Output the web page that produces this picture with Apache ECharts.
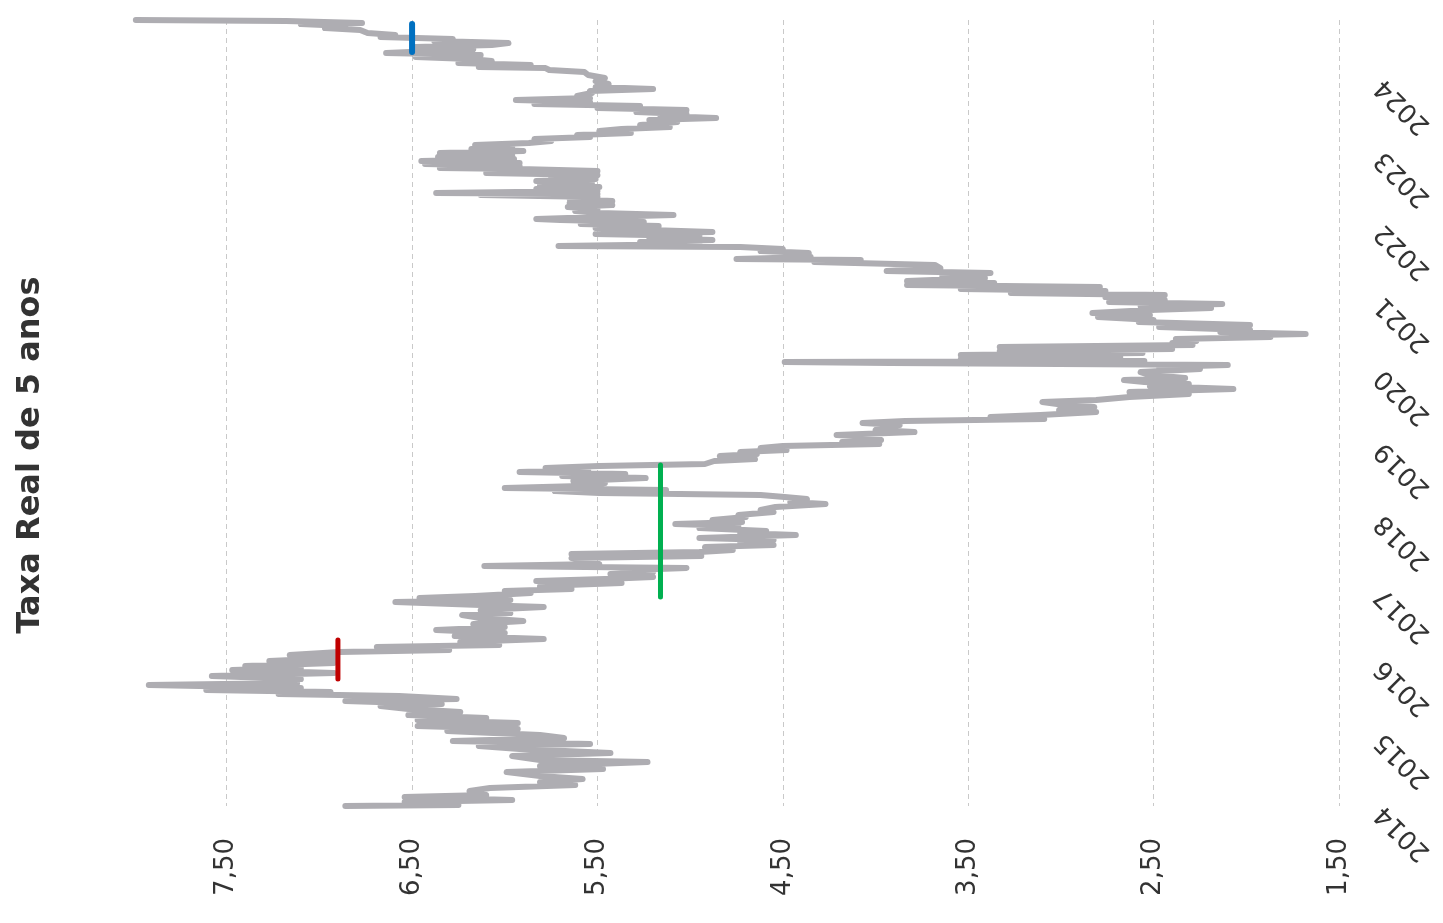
<!DOCTYPE html>
<html lang="pt-BR">
<head>
<meta charset="utf-8">
<title>Taxa Real de 5 anos</title>
<script src="https://cdn.jsdelivr.net/npm/echarts@6/dist/echarts.min.js"></script>
<style>
  html, body { margin: 0; padding: 0; background: #ffffff; }
  #grafico { width: 1443px; height: 923px; }
</style>
</head>
<body>
<div id="grafico"></div>
<script>
// Taxa real de 5 anos: [ano (fração decimal), taxa %]
const taxaReal = [
  [2014.000, 6.86], [2014.014, 6.25], [2014.055, 6.54], [2014.083, 5.96], [2014.124, 6.54],
  [2014.151, 6.10], [2014.206, 6.19], [2014.248, 6.08], [2014.289, 5.62], [2014.330, 5.81],
  [2014.371, 5.58], [2014.413, 5.81], [2014.468, 5.99], [2014.509, 5.47], [2014.550, 5.81],
  [2014.605, 5.23], [2014.633, 5.81], [2014.688, 5.96], [2014.729, 5.43], [2014.784, 5.92],
  [2014.826, 6.14], [2014.853, 5.54], [2014.894, 6.28], [2014.936, 5.68], [2014.977, 5.81],
  [2015.032, 6.31], [2015.059, 5.93], [2015.101, 6.47], [2015.142, 5.93], [2015.183, 6.47],
  [2015.211, 6.10], [2015.252, 6.52], [2015.293, 6.24], [2015.335, 6.52], [2015.376, 6.67],
  [2015.403, 6.34], [2015.445, 6.86], [2015.472, 6.26], [2015.513, 6.57], [2015.541, 7.22],
  [2015.569, 6.94], [2015.596, 7.61], [2015.624, 7.10], [2015.665, 7.92], [2015.692, 7.12],
  [2015.720, 7.31], [2015.747, 7.10], [2015.789, 7.58], [2015.830, 6.92], [2015.871, 7.47],
  [2015.899, 7.10], [2015.926, 7.40], [2015.968, 6.92], [2015.995, 7.27], [2016.036, 6.91],
  [2016.078, 7.16], [2016.119, 6.89], [2016.146, 6.30], [2016.188, 6.69], [2016.215, 6.03],
  [2016.256, 6.24], [2016.298, 5.79], [2016.339, 6.27], [2016.380, 6.00], [2016.422, 6.37],
  [2016.463, 6.00], [2016.504, 6.17], [2016.545, 5.90], [2016.587, 6.13], [2016.628, 6.23],
  [2016.655, 5.97], [2016.697, 6.13], [2016.738, 5.79], [2016.766, 6.13], [2016.807, 6.59],
  [2016.834, 5.97], [2016.862, 6.46], [2016.889, 6.16], [2016.931, 5.86], [2016.958, 6.00],
  [2016.986, 5.64], [2017.027, 5.81], [2017.068, 5.37], [2017.096, 5.83], [2017.123, 5.46],
  [2017.151, 5.20], [2017.192, 5.43], [2017.220, 5.20], [2017.247, 5.32], [2017.275, 5.02],
  [2017.302, 6.11], [2017.330, 5.49], [2017.371, 5.54], [2017.412, 5.64], [2017.440, 4.94],
  [2017.467, 5.64], [2017.495, 4.95], [2017.522, 4.77], [2017.564, 4.92], [2017.591, 4.55],
  [2017.632, 4.73], [2017.660, 4.55], [2017.687, 4.95], [2017.729, 4.43], [2017.756, 4.73],
  [2017.784, 4.59], [2017.825, 4.95], [2017.853, 4.74], [2017.880, 5.08], [2017.908, 4.72],
  [2017.935, 4.88], [2017.976, 4.70], [2018.004, 4.74], [2018.045, 4.55], [2018.073, 4.62],
  [2018.114, 4.54], [2018.155, 4.27], [2018.183, 4.46], [2018.224, 4.37], [2018.252, 4.49],
  [2018.279, 4.62], [2018.307, 5.49], [2018.334, 5.73], [2018.348, 5.13], [2018.375, 6.00],
  [2018.403, 5.59], [2018.444, 5.46], [2018.472, 5.63], [2018.513, 5.24], [2018.540, 5.69],
  [2018.568, 5.35], [2018.595, 5.92], [2018.623, 5.55], [2018.651, 5.78], [2018.678, 5.49],
  [2018.706, 4.92], [2018.747, 4.87], [2018.774, 4.65], [2018.816, 4.84], [2018.843, 4.64],
  [2018.871, 4.73], [2018.898, 4.48], [2018.926, 4.62], [2018.953, 4.50], [2018.981, 3.98],
  [2019.008, 4.18], [2019.036, 3.97], [2019.077, 4.03], [2019.105, 4.21], [2019.146, 3.79],
  [2019.173, 4.00], [2019.215, 3.98], [2019.242, 3.87], [2019.270, 4.07], [2019.297, 3.84],
  [2019.325, 3.09], [2019.352, 3.38], [2019.380, 3.11], [2019.421, 2.81], [2019.449, 3.01],
  [2019.490, 2.82], [2019.517, 2.98], [2019.559, 3.10], [2019.586, 2.81], [2019.627, 2.63],
  [2019.669, 2.31], [2019.696, 2.63], [2019.737, 2.07], [2019.779, 2.52], [2019.806, 2.31],
  [2019.834, 2.55], [2019.861, 2.66], [2019.889, 2.33], [2019.930, 2.52], [2019.971, 2.57],
  [2020.013, 2.25], [2020.040, 2.47], [2020.068, 2.10], [2020.095, 3.92], [2020.109, 4.49],
  [2020.123, 2.55], [2020.150, 3.54], [2020.178, 2.68], [2020.205, 3.54], [2020.233, 2.56],
  [2020.260, 3.33], [2020.288, 2.40], [2020.315, 3.33], [2020.343, 2.29], [2020.370, 2.40],
  [2020.398, 2.27], [2020.425, 2.38], [2020.453, 1.87], [2020.480, 1.95], [2020.494, 1.68],
  [2020.522, 2.14], [2020.549, 1.98], [2020.590, 2.47], [2020.618, 1.98], [2020.659, 2.58],
  [2020.687, 2.50], [2020.728, 2.80], [2020.756, 2.52], [2020.783, 2.83], [2020.824, 2.52],
  [2020.852, 2.19], [2020.880, 2.57], [2020.907, 2.13], [2020.935, 2.74], [2020.962, 2.44],
  [2021.003, 2.76], [2021.031, 2.44], [2021.058, 3.27], [2021.086, 2.76], [2021.113, 3.54],
  [2021.141, 2.79], [2021.168, 3.83], [2021.196, 3.36], [2021.224, 3.83], [2021.265, 3.41],
  [2021.292, 3.64], [2021.334, 3.38], [2021.361, 3.94], [2021.402, 3.65], [2021.444, 3.68],
  [2021.471, 3.67], [2021.485, 4.33], [2021.513, 4.08], [2021.526, 4.75], [2021.554, 4.35],
  [2021.581, 4.49], [2021.609, 4.36], [2021.636, 4.62], [2021.664, 4.50], [2021.691, 4.73],
  [2021.705, 5.71], [2021.733, 4.95], [2021.760, 5.27], [2021.788, 4.88], [2021.815, 5.22],
  [2021.843, 4.95], [2021.870, 5.51], [2021.898, 4.88], [2021.925, 5.22], [2021.953, 5.51],
  [2021.980, 5.17], [2022.008, 5.59], [2022.035, 5.25], [2022.063, 5.70], [2022.077, 5.83],
  [2022.104, 5.49], [2022.132, 5.09], [2022.159, 5.49], [2022.187, 5.62], [2022.214, 5.50],
  [2022.242, 5.66], [2022.269, 5.42], [2022.297, 5.65], [2022.324, 5.42], [2022.352, 5.65],
  [2022.379, 5.50], [2022.407, 6.13], [2022.421, 5.50], [2022.434, 6.37], [2022.462, 5.50],
  [2022.489, 5.83], [2022.517, 5.49], [2022.544, 5.81], [2022.572, 5.53], [2022.599, 5.83],
  [2022.627, 5.51], [2022.654, 5.75], [2022.682, 5.50], [2022.709, 6.10], [2022.737, 5.50],
  [2022.764, 5.92], [2022.778, 6.35], [2022.806, 5.92], [2022.833, 6.43], [2022.847, 5.92],
  [2022.874, 6.45], [2022.902, 5.95], [2022.930, 6.36], [2022.957, 5.96], [2022.985, 6.35],
  [2023.012, 5.90], [2023.040, 6.18], [2023.067, 5.96], [2023.095, 6.16], [2023.122, 5.87],
  [2023.150, 5.75], [2023.177, 5.84], [2023.205, 5.54], [2023.232, 5.61], [2023.260, 5.32],
  [2023.287, 5.49], [2023.315, 5.37], [2023.342, 5.11], [2023.370, 5.27], [2023.411, 5.07],
  [2023.439, 5.22], [2023.466, 4.86], [2023.494, 5.16], [2023.521, 5.02], [2023.549, 5.29],
  [2023.576, 5.02], [2023.604, 5.50], [2023.631, 5.27], [2023.659, 5.84], [2023.686, 5.54],
  [2023.714, 5.94], [2023.741, 5.54], [2023.769, 5.61], [2023.810, 5.53], [2023.838, 5.54],
  [2023.865, 5.20], [2023.893, 5.51], [2023.934, 5.44], [2023.975, 5.51], [2024.017, 5.46],
  [2024.058, 5.55], [2024.099, 5.57], [2024.127, 5.76], [2024.154, 5.78], [2024.168, 6.14],
  [2024.195, 5.86], [2024.223, 6.25], [2024.250, 6.07], [2024.278, 6.19], [2024.305, 6.48],
  [2024.333, 6.13], [2024.360, 6.64], [2024.388, 6.38], [2024.415, 6.17], [2024.443, 6.48],
  [2024.470, 6.07], [2024.498, 5.98], [2024.525, 6.38], [2024.553, 6.28], [2024.580, 6.67],
  [2024.608, 6.59], [2024.635, 6.74], [2024.677, 6.78], [2024.704, 6.97], [2024.732, 6.86],
  [2024.759, 7.10], [2024.773, 6.77], [2024.801, 7.18], [2024.815, 7.99]
];

// Marcos de referência: [taxa %, ano inicial, ano final]
const marcoVermelho = [6.90, 2015.747, 2016.284];
const marcoVerde = [5.16, 2016.876, 2018.692];
const marcoAzul = [6.50, 2024.374, 2024.759];

// Eixos
const anosEixo = [2014, 2015, 2016, 2017, 2018, 2019, 2020, 2021, 2022, 2023, 2024];
const taxasEixo = [1.5, 2.5, 3.5, 4.5, 5.5, 6.5, 7.5];
const tituloEixo = 'Taxa Real de 5 anos';

const fonte = 'DejaVu Sans';
const ultimoAno = taxaReal[taxaReal.length - 1][0];

function segmento(m) {
  return [[m[0], m[1]], [m[0], m[2]]];
}

function rotuloTaxa(v) {
  const ok = taxasEixo.some(t => Math.abs(t - v) < 1e-6);
  return ok ? v.toFixed(2).replace('.', ',') : '';
}

function rotuloAno(v) {
  const ok = anosEixo.some(a => Math.abs(a - v) < 1e-6);
  return ok ? String(Math.round(v)) : '';
}

const chart = echarts.init(document.getElementById('grafico'), null, { renderer: 'canvas' });

chart.setOption({
  backgroundColor: '#ffffff',
  animation: false,
  grid: { left: 134, right: 104, top: 20, bottom: 117 },
  graphic: [{
    type: 'text',
    x: 31,
    y: 455,
    rotation: Math.PI / 2,
    style: {
      text: tituloEixo,
      font: 'bold 32px "' + fonte + '"',
      fill: '#333333',
      align: 'center',
      verticalAlign: 'middle'
    }
  }],
  xAxis: {
    type: 'value',
    inverse: true,
    min: 1.5,
    max: 8.0,
    interval: 0.5,
    axisLine: { show: false },
    axisTick: { show: false },
    axisLabel: {
      rotate: 90,
      margin: 32,
      fontFamily: fonte,
      fontSize: 26,
      color: '#333333',
      formatter: rotuloTaxa,
      showMaxLabel: false
    },
    splitLine: {
      show: true,
      showMaxLine: false,
      lineStyle: {
        color: ['#c9c9c9', 'rgba(0,0,0,0)'],
        width: 1,
        type: [5, 4]
      }
    }
  },
  yAxis: {
    type: 'value',
    position: 'right',
    min: 2014,
    max: ultimoAno,
    interval: 1,
    axisLine: { show: false },
    axisTick: { show: false },
    splitLine: { show: false },
    axisLabel: {
      rotate: 135,
      margin: 37,
      padding: [0, 5, 0, 0],
      fontFamily: fonte,
      fontSize: 26,
      color: '#333333',
      formatter: rotuloAno,
      showMaxLabel: false
    }
  },
  series: [
    {
      name: tituloEixo,
      type: 'line',
      data: taxaReal.map(p => [p[1], p[0]]),
      symbol: 'none',
      showSymbol: false,
      clip: false,
      silent: true,
      z: 2,
      lineStyle: { color: '#aeadb2', width: 6, cap: 'round', join: 'round' }
    },
    {
      type: 'line',
      data: segmento(marcoVermelho),
      symbol: 'none',
      clip: false,
      silent: true,
      z: 3,
      lineStyle: { color: '#c00000', width: 5, cap: 'round' }
    },
    {
      type: 'line',
      data: segmento(marcoVerde),
      symbol: 'none',
      clip: false,
      silent: true,
      z: 3,
      lineStyle: { color: '#00b050', width: 5, cap: 'round' }
    },
    {
      type: 'line',
      data: segmento(marcoAzul),
      symbol: 'none',
      clip: false,
      silent: true,
      z: 3,
      lineStyle: { color: '#0070c0', width: 6, cap: 'round' }
    }
  ]
});
</script>
</body>
</html>
